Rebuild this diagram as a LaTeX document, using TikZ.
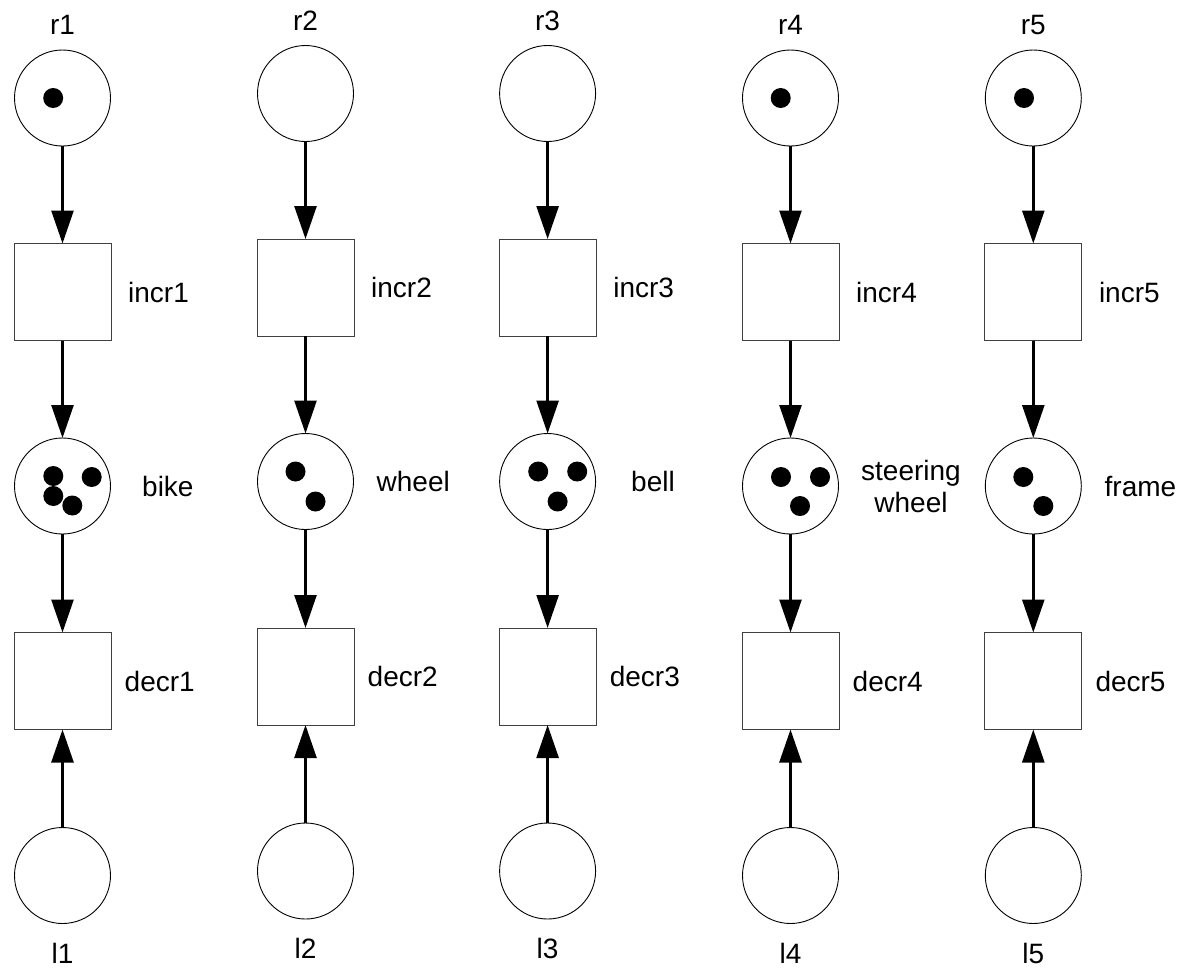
\documentclass[tikz,border=0pt]{standalone}
\usepackage{fontspec}
\setmainfont{Liberation Sans}
\usetikzlibrary{arrows.meta}
\begin{document}
\begin{tikzpicture}[x=1pt,y=-1pt,
  place/.style={circle,draw=black,line width=0.9pt,minimum size=96pt,inner sep=0pt,outer sep=0pt},
  trans/.style={rectangle,draw=black!75,line width=0.9pt,minimum size=97pt,inner sep=0pt,outer sep=0pt},
  lbl/.style={font=\fontsize{28}{32}\selectfont,inner sep=0pt},
  arc/.style={line width=2.6pt,-{Triangle[length=33pt,width=22pt]}}]
\useasboundingbox (0,0) rectangle (1178,967);
\foreach \i/\cx/\dy in {1/62.5/0,2/305.5/-4.5,3/547.6/-4.5,4/790.5/0,5/1033.3/0}{
  \node[place] (r\i) at ({\cx},{98+(\dy)}) {};
  \node[trans] (incr\i) at ({\cx},{292+(\dy)}) {};
  \node[place] (m\i) at ({\cx},{486+(\dy)}) {};
  \node[trans] (decr\i) at ({\cx},{681+(\dy)}) {};
  \node[place] (l\i) at ({\cx},{875.5+(\dy)}) {};
  \node[lbl] (rl\i) at ({\cx},{25+(\dy)}) {r\i};
  \node[lbl,anchor=west] (il\i) at ({\cx+65.5},{292+(\dy)}) {incr\i};
  \node[lbl,anchor=west] (dl\i) at ({\cx+62},{681+(\dy)}) {decr\i};
  \node[lbl] (ll\i) at ({\cx},{953+(\dy)}) {l\i};
  \draw[arc] (r\i) -- (incr\i);
  \draw[arc] (incr\i) -- (m\i);
  \draw[arc] (m\i) -- (decr\i);
  \draw[arc] (l\i) -- (decr\i);
}
% mid labels
\node[lbl,anchor=west] (bike) at (142,486) {bike};
\node[lbl,anchor=west] (wheel) at (376.5,481.5) {wheel};
\node[lbl,anchor=west] (bell) at (631,481.5) {bell};
\node[lbl,align=center] (steer) at (911,486) {steering\\wheel};
\node[lbl,anchor=west] (frame) at (1104.5,486) {frame};
% tokens
\fill ([shift={(-9.3,0)}]r1.center) circle[radius=10];
\fill ([shift={(-9.8,0)}]r4.center) circle[radius=10];
\fill ([shift={(-9.3,0)}]r5.center) circle[radius=10];
\foreach \p in {(-9.2,-10),(29.2,-9),(-9.2,10),(9.8,19.5)}
  \fill ([shift={\p}]m1.center) circle[radius=10];
\foreach \p in {(-10,-10),(10,20)}
  \fill ([shift={\p}]m2.center) circle[radius=10];
\foreach \p in {(-9.4,-10),(29.6,-10),(10,20)}
  \fill ([shift={\p}]m3.center) circle[radius=10];
\foreach \p in {(-9.5,-9),(29.5,-9),(9.5,20)}
  \fill ([shift={\p}]m4.center) circle[radius=10];
\foreach \p in {(-10,-9),(10,20)}
  \fill ([shift={\p}]m5.center) circle[radius=10];
\end{tikzpicture}
\end{document}
